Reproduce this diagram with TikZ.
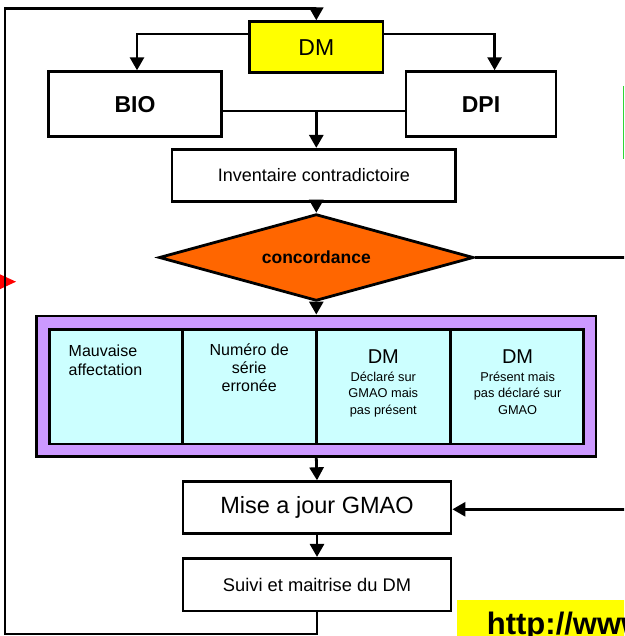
\documentclass[tikz,border=0pt]{standalone}
\usepackage{fontspec}
\setmainfont{Liberation Sans}
\usepackage{xcolor}
\usepackage{tikz}
\usetikzlibrary{shapes}
\usetikzlibrary{arrows.meta,positioning}

\definecolor{dmyellow}{RGB}{255,255,0}
\definecolor{concorange}{RGB}{255,102,0}
\definecolor{framepurple}{RGB}{204,153,255}
\definecolor{cellcyan}{RGB}{204,255,255}
\definecolor{edgegreen}{RGB}{51,214,51}

\newcommand{\pxfont}[2]{\fontsize{#1}{#2}\selectfont}

\begin{document}
\begin{tikzpicture}[
    x=1pt, y=-1pt,
    box/.style={
        draw,
        line width=2.8pt,
        fill=white,
        inner sep=0pt
        },
    decision/.style={
        draw,
        shape=diamond,
        line width=2.8pt,
        fill=concorange,
        inner sep=0pt,
        aspect=3.6,
        font=\pxfont{17.5}{20}\bfseries
        },
    cell/.style={
        draw,
        line width=2.8pt,
        fill=cellcyan,
        inner sep=0pt,
        minimum width=133.65pt,
        minimum height=114.7pt
        },
    celltext/.style={
        inner sep=0pt,
        font=\pxfont{16}{18.3}
        },
    dmtext/.style={
        inner sep=0pt,
        anchor=north,
        font=\pxfont{20}{22}
        },
    smalltext/.style={
        inner sep=0pt,
        anchor=north,
        align=center,
        font=\pxfont{12.8}{16.7}
        },
    link/.style={
        line width=2.8pt
        },
    arr/.style={
        line width=2.8pt,
        -{Triangle[length=13pt,width=14pt]}
        },
    urlbox/.style={
        fill=dmyellow,
        inner xsep=30pt,
        inner ysep=12pt,
        text height=22pt,
        text depth=10pt,
        font=\pxfont{31}{36}\bfseries
        }
    ]

    \path[use as bounding box, clip] (0,0) rectangle (624,636);

    \fill[red] (-4,272.5) -- (16,281.7) -- (-4,291) -- cycle;

    \node[box, fill=dmyellow, minimum width=133.5pt, minimum height=51pt,
        font=\pxfont{23}{26}] (dm) at (316.3,47.2) {DM};
    \node[box, minimum width=173pt, minimum height=65pt,
        font=\pxfont{23}{26}\bfseries] (bio) at (135,104.2) {BIO};
    \node[box, minimum width=150pt, minimum height=65pt,
        font=\pxfont{23}{26}\bfseries] (dpi) at (481,104.2) {DPI};
    \node[box, minimum width=283.7pt, minimum height=52.4pt,
        font=\pxfont{18}{20}] (inv) at (313.8,175.5) {Inventaire contradictoire};
    \node[decision, minimum width=314.5pt, minimum height=86.7pt] (conc) at (316.3,257.5) {concordance};

    \node[draw, line width=2.8pt, fill=framepurple, inner sep=0pt,
        minimum width=559.3pt, minimum height=140.7pt] (frame) at (316.3,386.3) {};
    \node[cell] (cellA) at (116,386.7) {};
    \node[cell] (cellB) at (249.65,386.7) {};
    \node[cell] (cellC) at (383.3,386.7) {};
    \node[cell] (cellD) at (516.95,386.7) {};

    \node[celltext, anchor=north west, align=left] (txtA) at (68.5,345) {Mauvaise\\affectation};
    \node[celltext, anchor=north, align=center] (txtB) at (249.2,343.3) {Numéro de\\série\\erronée};
    \node[dmtext] (dmC) at (383.3,349.3) {DM};
    \node[smalltext] (txtC) at (383.3,371.5) {Déclaré sur\\GMAO mais\\pas présent};
    \node[dmtext] (dmD) at (517.6,349.3) {DM};
    \node[smalltext] (txtD) at (517.6,371.5) {Présent mais\\pas déclaré sur\\GMAO};

    \node[box, minimum width=268pt, minimum height=51.6pt,
        font=\pxfont{23.5}{26}] (mise) at (317,507.5) {Mise a jour GMAO};
    \node[box, minimum width=268pt, minimum height=52.7pt,
        font=\pxfont{18.3}{20}] (suivi) at (317,584.7) {Suivi et maitrise du DM};

    \coordinate (bdjoin) at ([yshift=-6.8pt]bio.east);
    \coordinate (loopbl) at (5,634);
    \coordinate (looptl) at (5,8.3);
    \coordinate (concout) at (630,257.5);
    \coordinate (misein) at (630,509.3);

    \draw[arr] ([yshift=13.2pt]dm.west) -| ([xshift=2pt]bio.north);
    \draw[arr] ([yshift=13.2pt]dm.east) -| ([xshift=13.6pt]dpi.north);
    \draw[link] (bdjoin) -- (bdjoin -| dpi.west);
    \draw[arr] (bdjoin -| conc.north) -- (conc.north |- inv.north);
    \draw[arr] (conc.north |- inv.south) -- (conc.north);
    \draw[arr] (conc.south) -- (frame.north);
    \draw[arr] (frame.south) -- (mise.north);
    \draw[arr] (mise.south) -- (suivi.north);
    \draw[link] (conc.east) -- (concout);
    \draw[arr] (misein) -- (misein -| mise.east);
    \draw[arr] (suivi.south) |- (loopbl) -- (looptl) -| (dm.north);

    \draw[edgegreen, line width=1.5pt] (623.3,86) -- (623.3,159);

    \node[urlbox, anchor=north west] (url) at (456.7,600) {http://www};

\end{tikzpicture}
\end{document}
